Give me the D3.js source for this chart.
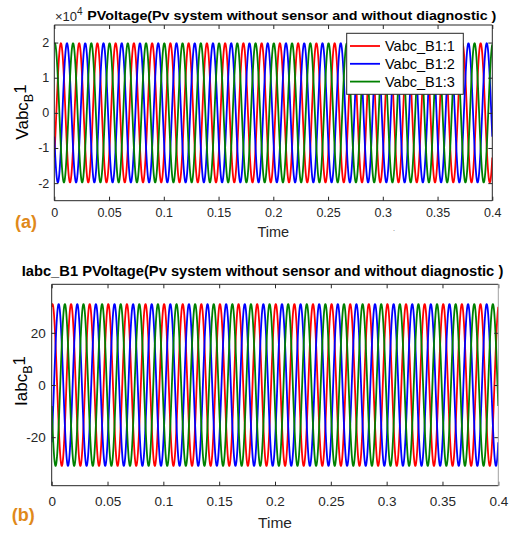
<!DOCTYPE html>
<html>
<head>
<meta charset="utf-8">
<script src="https://cdn.jsdelivr.net/npm/d3@7"></script>
<style>
  html, body { margin: 0; padding: 0; background: #fff; }
  svg { display: block; font-family: "Liberation Sans", Arial, Helvetica, sans-serif; }
</style>
</head>
<body>
<svg id="fig" width="512" height="533"></svg>
<script>
// ---- data ----------------------------------------------------------------
const timeTicks = [0, 0.05, 0.1, 0.15, 0.2, 0.25, 0.3, 0.35, 0.4];
const timeRange = [0, 0.4];
const lineFrequencyHz = 60;

// Voltage at bus B1 (three phases)
const voltSeriesNames = ["Vabc_B1:1", "Vabc_B1:2", "Vabc_B1:3"];
const voltAmplitude = [19800, 19800, 19800];
const voltPeakPhaseDeg = [130, 250, 10];     // phase delay of each waveform's peak
const voltTicks = [-20000, -10000, 0, 10000, 20000];
const voltLimits = [-25000, 25000];

// Current at bus B1 (three phases)
const curAmplitude = [31, 31, 31];
const curPeakPhaseDeg = [15, 135, 255];
const curTicks = [-20, 0, 20];
const curLimits = [-38.6, 38.6];

const phaseColors = ["#ff0000", "#0000ff", "#008000"];

// ---- helpers -------------------------------------------------------------
const svg = d3.select("#fig");
const AX = "#262626";
const SAMPLES = 4000;
const plain = v => String(+v.toFixed(4));   // plain hyphen-minus labels

function waveform(amp, phaseDeg) {
  const w = 2 * Math.PI * lineFrequencyHz, ph = phaseDeg * Math.PI / 180;
  return d3.range(SAMPLES + 1).map(i => {
    const t = timeRange[0] + (timeRange[1] - timeRange[0]) * i / SAMPLES;
    return [t, amp * Math.cos(w * t - ph)];
  });
}

function panel(cfg) {
  const x = d3.scaleLinear().domain(timeRange).range([cfg.left, cfg.right]);
  const y = d3.scaleLinear().domain(cfg.limits).range([cfg.bottom, cfg.top]);
  const g = svg.append("g");

  const clipId = "clip-" + cfg.id;
  svg.append("clipPath").attr("id", clipId).append("rect")
    .attr("x", cfg.left).attr("y", cfg.top)
    .attr("width", cfg.right - cfg.left).attr("height", cfg.bottom - cfg.top);

  const line = d3.line().x(d => x(d[0])).y(d => y(d[1]));
  const lines = g.append("g").attr("clip-path", `url(#${clipId})`);
  cfg.amp.forEach((a, i) => {
    lines.append("path")
      .datum(waveform(a, cfg.phase[i]))
      .attr("d", line)
      .attr("fill", "none")
      .attr("stroke", phaseColors[i])
      .attr("stroke-width", 1.8)
      .attr("stroke-linejoin", "round");
  });

  // axes with inward ticks, MATLAB-like
  const styleAxis = (sel, fs) => {
    sel.select(".domain").remove();
    sel.selectAll(".tick line").attr("stroke", AX);
    sel.selectAll(".tick text").attr("fill", AX).style("font-size", fs + "px");
  };
  const xb = g.append("g").attr("transform", `translate(0,${cfg.bottom})`)
    .call(d3.axisBottom(x).tickValues(timeTicks).tickFormat(plain)
      .tickSizeInner(-4).tickSizeOuter(0).tickPadding(cfg.xPad));
  styleAxis(xb, cfg.fs);
  const xt = g.append("g").attr("transform", `translate(0,${cfg.top})`)
    .call(d3.axisTop(x).tickValues(timeTicks).tickFormat("").tickSizeInner(-4).tickSizeOuter(0));
  styleAxis(xt, cfg.fs);
  const yl = g.append("g").attr("transform", `translate(${cfg.left},0)`)
    .call(d3.axisLeft(y).tickValues(cfg.ticks).tickFormat(cfg.tickFormat)
      .tickSizeInner(-4).tickSizeOuter(0).tickPadding(cfg.yPad));
  styleAxis(yl, cfg.fs);
  const yr = g.append("g").attr("transform", `translate(${cfg.right},0)`)
    .call(d3.axisRight(y).tickValues(cfg.ticks).tickFormat("").tickSizeInner(-4).tickSizeOuter(0));
  styleAxis(yr, cfg.fs);

  // box
  g.append("path")
    .attr("d", `M${cfg.right},${cfg.top}H${cfg.left}V${cfg.bottom}H${cfg.right}`)
    .attr("fill", "none").attr("stroke", AX).attr("stroke-width", 1);
  g.append("line")
    .attr("x1", cfg.right).attr("x2", cfg.right).attr("y1", cfg.top).attr("y2", cfg.bottom)
    .attr("stroke", cfg.rightColor).attr("stroke-width", 1);

  return { x, y, g };
}

// ---- (a) voltage ----------------------------------------------------------
panel({
  id: "a", left: 54.3, right: 492.3, top: 25, bottom: 200.7,
  limits: voltLimits, ticks: voltTicks, tickFormat: d => plain(d / 1e4),
  amp: voltAmplitude, phase: voltPeakPhaseDeg, fs: 12.5, xPad: 7, yPad: 5, rightColor: AX
});

// exponent marker
svg.append("text").attr("x", 55).attr("y", 20.5).attr("fill", AX).style("font-size", "13px")
  .text("×10").append("tspan").attr("dy", -6).style("font-size", "10px").text("4");

svg.append("text").attr("x", 87.3).attr("y", 20).attr("fill", "#000")
  .style("font-size", "13.5px").style("font-weight", "bold")
  .attr("textLength", 409).attr("lengthAdjust", "spacingAndGlyphs")
  .text("PVoltage(Pv system without sensor and without diagnostic )");

// y label with subscript
function yLabel(x, y, main) {
  const t = svg.append("text")
    .attr("transform", `translate(${x},${y}) rotate(-90)`)
    .attr("text-anchor", "middle").attr("fill", "#000").style("font-size", "17px");
  t.append("tspan").text(main);
  t.append("tspan").attr("dy", 4.5).style("font-size", "12.5px").text("B");
  t.append("tspan").attr("dy", -7).text("1");
}
yLabel(28, 112, "Vabc");

svg.append("text").attr("x", 273.3).attr("y", 237).attr("text-anchor", "middle")
  .attr("fill", AX).style("font-size", "14.5px").text("Time");
svg.append("text").attr("x", 394).attr("y", 231).attr("text-anchor", "middle")
  .attr("fill", "#555").style("font-size", "7px").text(".");

svg.append("text").attr("x", 15).attr("y", 228).attr("fill", "#e0891a")
  .style("font-size", "18px").style("font-weight", "bold").text("(a)");

// legend
const leg = svg.append("g");
leg.append("rect").attr("x", 346.7).attr("y", 33.3).attr("width", 116.6).attr("height", 61)
  .attr("fill", "#fff").attr("stroke", AX).attr("stroke-width", 1);
voltSeriesNames.forEach((name, i) => {
  const cy = 46 + i * 17.8;
  leg.append("line").attr("x1", 350).attr("x2", 380).attr("y1", cy).attr("y2", cy)
    .attr("stroke", phaseColors[i]).attr("stroke-width", 1.8);
  leg.append("text").attr("x", 385).attr("y", cy + 5.2).attr("fill", "#000")
    .style("font-size", "14.5px").text(name);
});

// ---- (b) current ----------------------------------------------------------
panel({
  id: "b", left: 51.7, right: 498.3, top: 284.3, bottom: 485.7,
  limits: curLimits, ticks: curTicks, tickFormat: plain,
  amp: curAmplitude, phase: curPeakPhaseDeg, fs: 13.5, xPad: 11, yPad: 6, rightColor: "#a0a0a0"
});

svg.append("text").attr("x", 21.7).attr("y", 275.7).attr("fill", "#000")
  .style("font-size", "14px").style("font-weight", "bold")
  .attr("textLength", 481.6).attr("lengthAdjust", "spacingAndGlyphs")
  .text("Iabc_B1 PVoltage(Pv system without sensor and without diagnostic )");

yLabel(27, 381, "Iabc");

svg.append("text").attr("x", 275).attr("y", 528).attr("text-anchor", "middle")
  .attr("fill", AX).style("font-size", "15.5px").text("Time");

svg.append("text").attr("x", 11.7).attr("y", 521).attr("fill", "#e0891a")
  .style("font-size", "18px").style("font-weight", "bold").text("(b)");
</script>
</body>
</html>
